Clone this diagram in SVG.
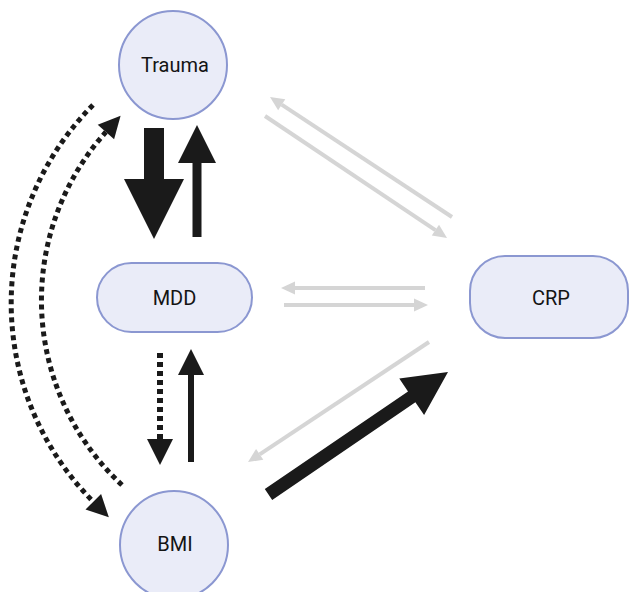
<svg xmlns="http://www.w3.org/2000/svg" width="629" height="592" viewBox="0 0 629 592">
<style>
.node{fill:#eaecf8;stroke:#8b97d1;stroke-width:2}
.lbl{font-family:Roboto,"Liberation Sans",sans-serif;font-size:20px;fill:#141414;text-anchor:middle}
.gray{stroke:#d5d5d5;stroke-width:4;fill:none;marker-end:url(#gh)}
.blk{fill:#1a1a1a}
.dot{stroke:#1a1a1a;stroke-width:5;fill:none;stroke-dasharray:5 4}
</style>
<defs>
<marker id="gh" markerUnits="userSpaceOnUse" markerWidth="16" markerHeight="16" viewBox="0 -8 16 16" refX="0" refY="0" orient="auto" overflow="visible">
<path d="M0,-6.5 L14,0 L0,6.5 Z" fill="#d5d5d5"/>
</marker>
<marker id="bh" markerUnits="userSpaceOnUse" markerWidth="24" markerHeight="24" viewBox="0 -12 24 24" refX="0" refY="0" orient="auto" overflow="visible">
<path d="M0,-11 L22,0 L0,11 Z" fill="#1a1a1a"/>
</marker>
</defs>
<rect width="629" height="592" fill="#ffffff"/>
<g id="connectors">
<line class="gray" x1="265" y1="116" x2="435.4" y2="230.2"/>
<line class="gray" x1="452" y1="217" x2="281.7" y2="104.7"/>
<line class="gray" x1="425" y1="288" x2="295" y2="288"/>
<line class="gray" x1="284" y1="305" x2="414" y2="305"/>
<line class="gray" x1="429" y1="342" x2="259.7" y2="454.3"/>
<polygon class="blk" points="264.8,489.1 408,391.4 399.3,378.6 448,372 424.1,415 415.4,402.2 272.2,499.9"/>
<polygon class="blk" points="144,128 164,128 164,179 184,179 154,239 124,179 144,179"/>
<polygon class="blk" points="192.5,237 201.5,237 201.5,163 216,163 197,125 178,163 192.5,163"/>
<polygon class="blk" points="188,462 194,462 194,375 204,375 191,349 178,375 188,375"/>
<line x1="160" y1="353" x2="160" y2="439" stroke="#1a1a1a" stroke-width="6" stroke-dasharray="5 4"/>
<polygon class="blk" points="147,439 173,439 160,465"/>
<path class="dot" d="M93,105 A281,281 0 0 0 93.3,501.7" marker-end="url(#bh)"/>
<path class="dot" d="M122,485 A252,252 0 0 1 105.9,132" marker-end="url(#bh)"/>
</g>
<g id="trauma">
<circle class="node" cx="173" cy="65" r="54"/>
<text class="lbl" x="175" y="72">Trauma</text>
</g>
<g id="mdd">
<rect class="node" x="97" y="263" width="155" height="69" rx="34.5"/>
<text class="lbl" x="174.5" y="305">MDD</text>
</g>
<g id="crp">
<rect class="node" x="470" y="256" width="158" height="82" rx="35"/>
<text class="lbl" x="551" y="305">CRP</text>
</g>
<g id="bmi">
<circle class="node" cx="174" cy="545" r="54"/>
<text class="lbl" x="175" y="551">BMI</text>
</g>
</svg>
